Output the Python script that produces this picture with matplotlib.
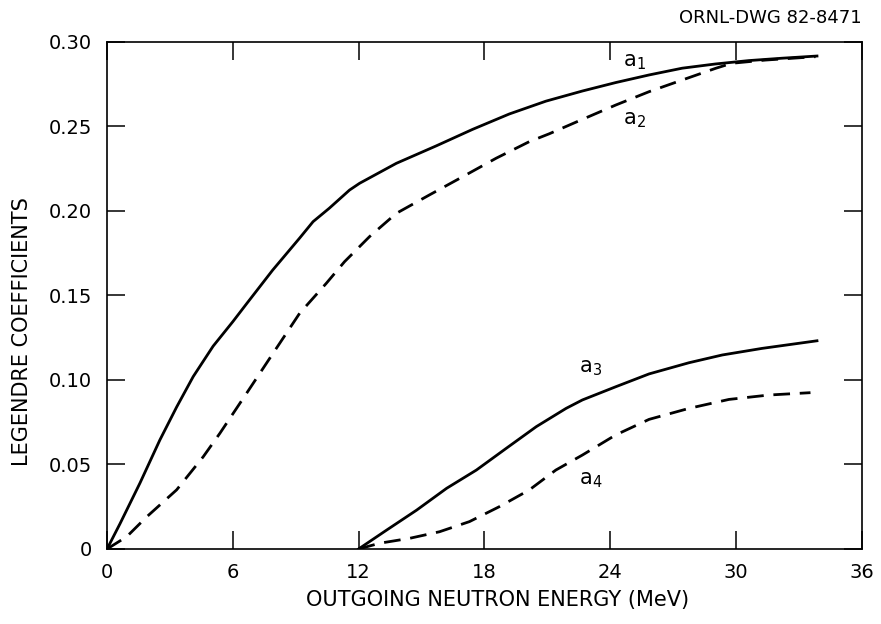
import numpy as np
import matplotlib.pyplot as plt

plt.rcParams['font.family'] = ['DejaVu Sans']
plt.rcParams['mathtext.fontset'] = 'dejavusans'

# Legendre coefficients vs outgoing neutron energy (MeV)
e_a1 = [0, 0.62, 1.57, 2.52, 3.32, 4.11, 5.06, 6.0, 6.65, 7.9, 9.19, 9.83, 10.6, 11.57,
        12.05, 13.8, 15.7, 17.44, 19.19, 20.94, 22.68, 24.27, 25.86, 27.44, 29.03, 30.62,
        32.2, 33.87]
a1 = [0, 0.015, 0.039, 0.0645, 0.084, 0.102, 0.12, 0.1345, 0.145, 0.165, 0.184, 0.1937,
      0.2016, 0.2124, 0.2164, 0.2282, 0.2385, 0.2483, 0.2574, 0.265, 0.271, 0.276, 0.2805,
      0.2845, 0.287, 0.289, 0.2904, 0.2917]

e_a2 = [0, 0.94, 1.89, 3.32, 4.59, 5.38, 6.65, 7.92, 9.19, 10.46, 11.33, 12.52, 13.8,
        15.38, 16.97, 18.56, 20.14, 21.1, 22.6, 24.27, 25.86, 27.44, 29.03, 29.8, 31.4, 33.8]
a2 = [0, 0.0073, 0.019, 0.035, 0.0546, 0.0684, 0.092, 0.1158, 0.1395, 0.1572, 0.17,
      0.1848, 0.1986, 0.2095, 0.2203, 0.2312, 0.241, 0.2457, 0.2538, 0.2627, 0.2706,
      0.2775, 0.2844, 0.2874, 0.2893, 0.2913]

e_a3 = [12.0, 13.34, 14.77, 16.2, 17.62, 19.05, 20.48, 21.9, 22.68, 24.27, 25.86, 27.76,
        29.35, 31.25, 33.87]
a3 = [0, 0.0112, 0.023, 0.0359, 0.0467, 0.0596, 0.0724, 0.0832, 0.0882, 0.096, 0.1036,
      0.1102, 0.1148, 0.1187, 0.1232]

e_a4 = [12.0, 13.0, 14.43, 15.86, 17.29, 18.71, 20.14, 21.41, 22.68, 24.27, 25.86, 27.76,
        29.67, 31.57, 33.56]
a4 = [0, 0.0034, 0.0063, 0.0102, 0.0162, 0.025, 0.0349, 0.0467, 0.0556, 0.0675, 0.0767,
      0.0832, 0.0885, 0.0911, 0.0925]

x_ticks = [0, 6, 12, 18, 24, 30, 36]
y_ticks = [0, 0.05, 0.10, 0.15, 0.20, 0.25, 0.30]
y_tick_labels = ['0', '0.05', '0.10', '0.15', '0.20', '0.25', '0.30']

fig = plt.figure(figsize=(8.81, 6.24), dpi=100)
ax = fig.add_axes([0.1215, 0.1202, 0.8565, 0.8125])

dash = (0, (6, 3.5))
ax.plot(e_a1, a1, color='black', lw=2.0)
ax.plot(e_a2, a2, color='black', lw=2.0, linestyle=dash)
ax.plot(e_a3, a3, color='black', lw=2.0)
ax.plot(e_a4, a4, color='black', lw=2.0, linestyle=dash)

# curve labels, upright a with subscript index
ax.text(24.6, 0.2883, r'$\mathrm{a}_1$', fontsize=15, va='center', ha='left')
ax.text(24.6, 0.2536, r'$\mathrm{a}_2$', fontsize=15, va='center', ha='left')
ax.text(22.5, 0.1070, r'$\mathrm{a}_3$', fontsize=15, va='center', ha='left')
ax.text(22.5, 0.0411, r'$\mathrm{a}_4$', fontsize=15, va='center', ha='left')

ax.set_xlim(0, 36)
ax.set_ylim(0, 0.30)
ax.set_xticks(x_ticks)
ax.set_xticklabels([str(t) for t in x_ticks])
ax.set_yticks(y_ticks)
ax.set_yticklabels(y_tick_labels)
ax.tick_params(direction='in', length=13, width=1.1, top=True, right=True,
               labelsize=14, color='black')
ax.tick_params(axis='x', pad=10)
ax.tick_params(axis='y', pad=11)
for s in ax.spines.values():
    s.set_linewidth(1.2)

ax.set_xlabel('OUTGOING NEUTRON ENERGY (MeV)', fontsize=15)
ax.set_ylabel('LEGENDRE COEFFICIENTS', fontsize=15)
ax.xaxis.set_label_coords(0.518, -0.081)
ax.yaxis.set_label_coords(-0.099, 0.428)

fig.text(862 / 881, 1 - 23 / 624, 'ORNL-DWG 82-8471', ha='right', va='baseline', fontsize=13)

fig.savefig('out.png', dpi=100)
